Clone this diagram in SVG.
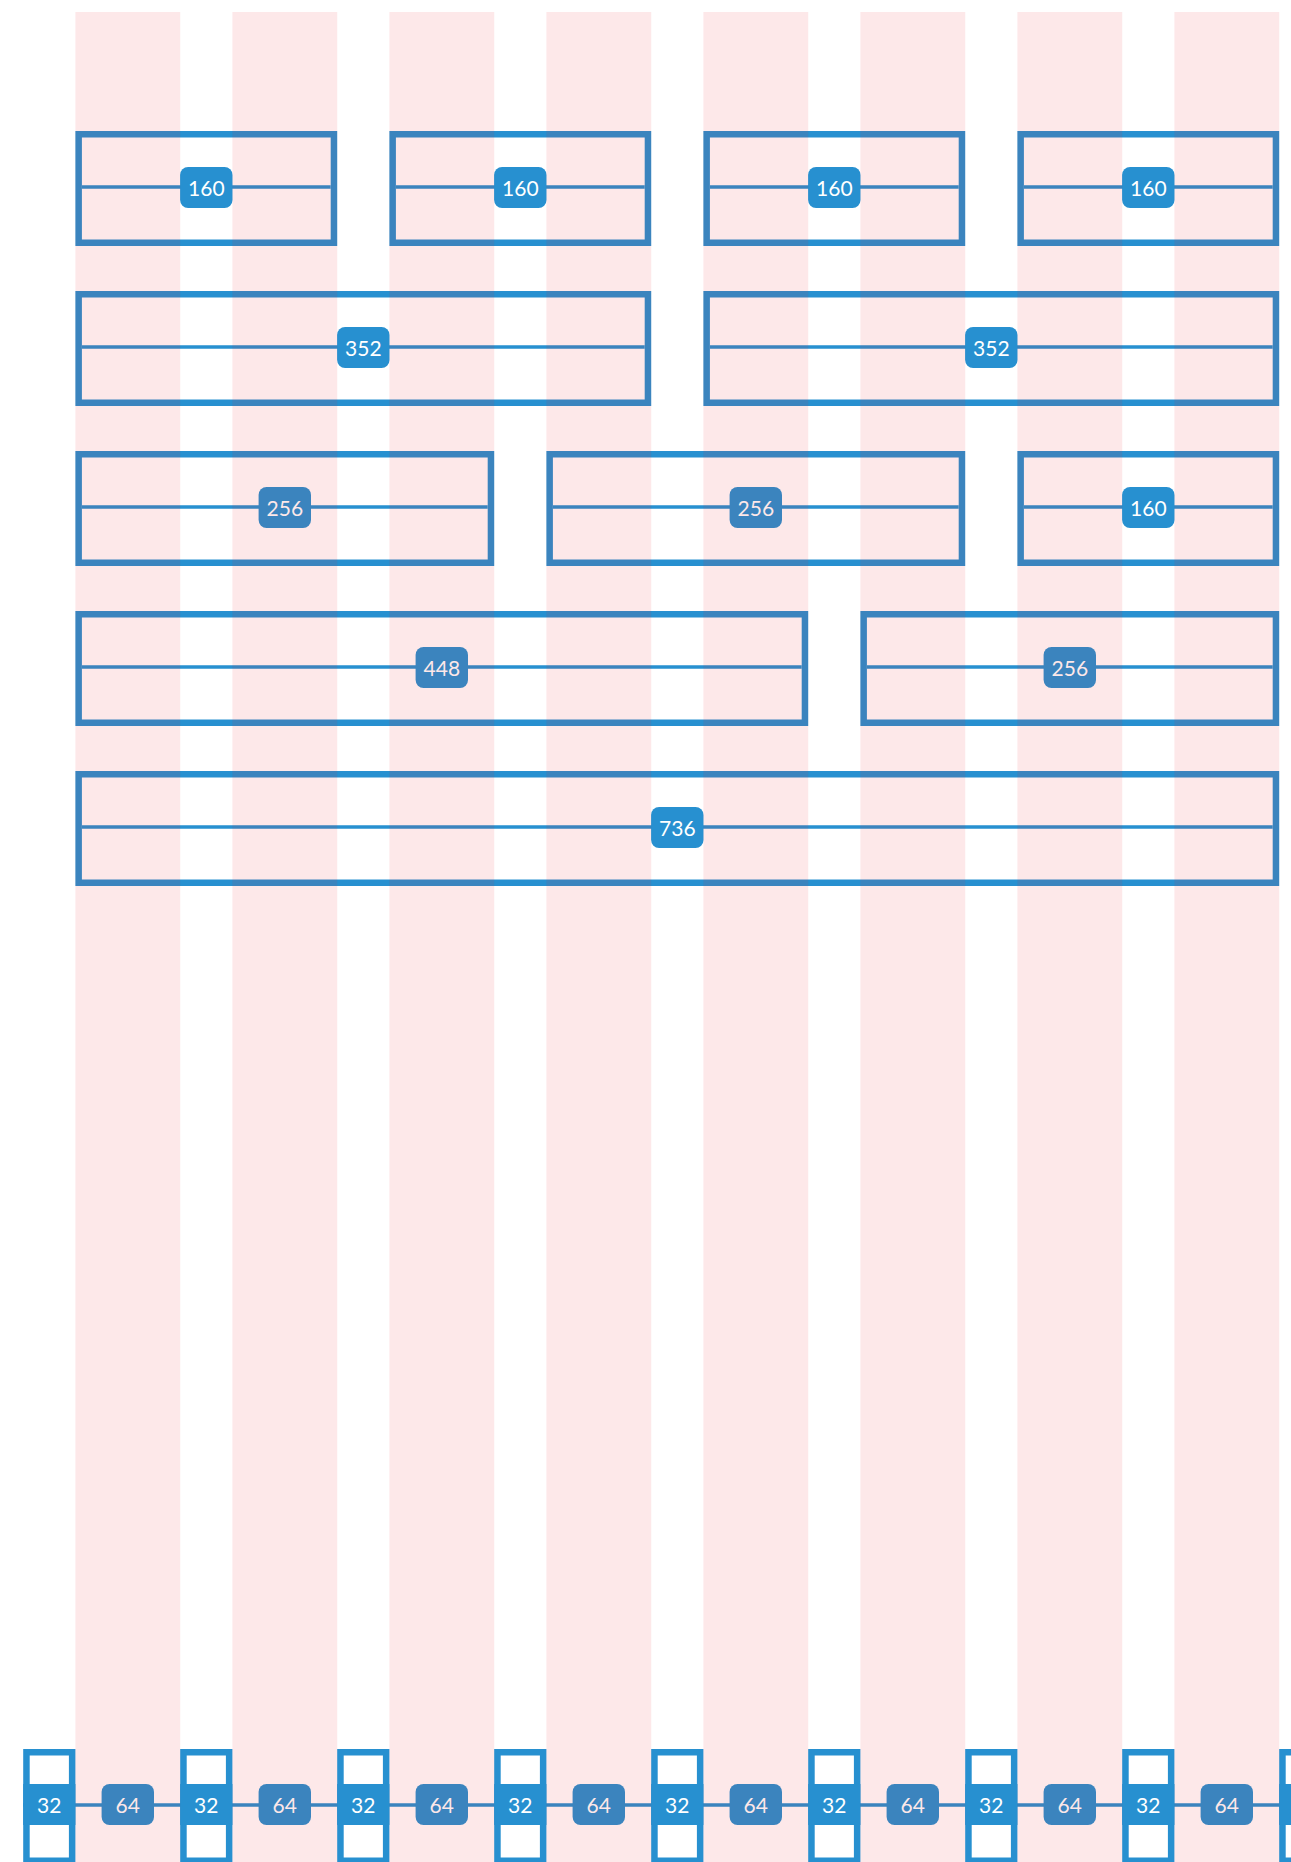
<svg xmlns="http://www.w3.org/2000/svg" width="1291" height="1862" viewBox="0 0 1291 1862">
<style>
.box{fill:#ffffff;stroke:#2790d0;stroke-width:6.5}
.mid{stroke:#2790d0;stroke-width:3.5}
.lab{fill:#2790d0}
.t{fill:#ffffff;font-family:Lato,"Noto Sans",sans-serif;font-size:21px;text-anchor:middle}
.col{fill:rgb(234,30,40);fill-opacity:0.1}
</style>
<rect width="1291" height="1862" fill="#ffffff"/>
<g id="connectors">
<line class="mid" x1="23" y1="1805" x2="1291" y2="1805"/>
</g>
<g id="r1b1"><rect class="box" x="78.65" y="134.25" width="255.3" height="108.5"/><line class="mid" x1="81.9" y1="187" x2="330.7" y2="187"/><rect class="lab" x="180.1" y="167" width="52.4" height="41" rx="8"/><text class="t" x="206.3" y="195.5">160</text></g>
<g id="r1b2"><rect class="box" x="392.65" y="134.25" width="255.3" height="108.5"/><line class="mid" x1="395.9" y1="187" x2="644.7" y2="187"/><rect class="lab" x="494.1" y="167" width="52.4" height="41" rx="8"/><text class="t" x="520.3" y="195.5">160</text></g>
<g id="r1b3"><rect class="box" x="706.65" y="134.25" width="255.3" height="108.5"/><line class="mid" x1="709.9" y1="187" x2="958.7" y2="187"/><rect class="lab" x="808.1" y="167" width="52.4" height="41" rx="8"/><text class="t" x="834.3" y="195.5">160</text></g>
<g id="r1b4"><rect class="box" x="1020.65" y="134.25" width="255.3" height="108.5"/><line class="mid" x1="1023.9" y1="187" x2="1272.7" y2="187"/><rect class="lab" x="1122.1" y="167" width="52.4" height="41" rx="8"/><text class="t" x="1148.3" y="195.5">160</text></g>

<g id="r2b1"><rect class="box" x="78.65" y="294.25" width="569.3" height="108.5"/><line class="mid" x1="81.9" y1="347" x2="644.7" y2="347"/><rect class="lab" x="337.1" y="327" width="52.4" height="41" rx="8"/><text class="t" x="363.3" y="355.5">352</text></g>
<g id="r2b2"><rect class="box" x="706.65" y="294.25" width="569.3" height="108.5"/><line class="mid" x1="709.9" y1="347" x2="1272.7" y2="347"/><rect class="lab" x="965.1" y="327" width="52.4" height="41" rx="8"/><text class="t" x="991.3" y="355.5">352</text></g>

<g id="r3b1"><rect class="box" x="78.65" y="454.25" width="412.3" height="108.5"/><line class="mid" x1="81.9" y1="507" x2="487.7" y2="507"/><rect class="lab" x="258.6" y="487" width="52.4" height="41" rx="8"/><text class="t" x="284.8" y="515.5">256</text></g>
<g id="r3b2"><rect class="box" x="549.65" y="454.25" width="412.3" height="108.5"/><line class="mid" x1="552.9" y1="507" x2="958.7" y2="507"/><rect class="lab" x="729.6" y="487" width="52.4" height="41" rx="8"/><text class="t" x="755.8" y="515.5">256</text></g>
<g id="r3b3"><rect class="box" x="1020.65" y="454.25" width="255.3" height="108.5"/><line class="mid" x1="1023.9" y1="507" x2="1272.7" y2="507"/><rect class="lab" x="1122.1" y="487" width="52.4" height="41" rx="8"/><text class="t" x="1148.3" y="515.5">160</text></g>

<g id="r4b1"><rect class="box" x="78.65" y="614.25" width="726.3" height="108.5"/><line class="mid" x1="81.9" y1="667" x2="801.7" y2="667"/><rect class="lab" x="415.6" y="647" width="52.4" height="41" rx="8"/><text class="t" x="441.8" y="675.5">448</text></g>
<g id="r4b2"><rect class="box" x="863.65" y="614.25" width="412.3" height="108.5"/><line class="mid" x1="866.9" y1="667" x2="1272.7" y2="667"/><rect class="lab" x="1043.6" y="647" width="52.4" height="41" rx="8"/><text class="t" x="1069.8" y="675.5">256</text></g>

<g id="r5b1"><rect class="box" x="78.65" y="774.25" width="1197.3" height="108.5"/><line class="mid" x1="81.9" y1="827" x2="1272.7" y2="827"/><rect class="lab" x="651.1" y="807" width="52.4" height="41" rx="8"/><text class="t" x="677.3" y="835.5">736</text></g>

<g id="g0"><rect class="box" x="26.45" y="1752.25" width="45.7" height="108.5"/><rect class="lab" x="23.2" y="1784" width="52.2" height="41"/><text class="t" x="49.3" y="1812.5">32</text></g>
<g id="g1"><rect class="box" x="183.45" y="1752.25" width="45.7" height="108.5"/><rect class="lab" x="180.2" y="1784" width="52.2" height="41"/><text class="t" x="206.3" y="1812.5">32</text></g>
<g id="g2"><rect class="box" x="340.45" y="1752.25" width="45.7" height="108.5"/><rect class="lab" x="337.2" y="1784" width="52.2" height="41"/><text class="t" x="363.3" y="1812.5">32</text></g>
<g id="g3"><rect class="box" x="497.45" y="1752.25" width="45.7" height="108.5"/><rect class="lab" x="494.2" y="1784" width="52.2" height="41"/><text class="t" x="520.3" y="1812.5">32</text></g>
<g id="g4"><rect class="box" x="654.45" y="1752.25" width="45.7" height="108.5"/><rect class="lab" x="651.2" y="1784" width="52.2" height="41"/><text class="t" x="677.3" y="1812.5">32</text></g>
<g id="g5"><rect class="box" x="811.45" y="1752.25" width="45.7" height="108.5"/><rect class="lab" x="808.2" y="1784" width="52.2" height="41"/><text class="t" x="834.3" y="1812.5">32</text></g>
<g id="g6"><rect class="box" x="968.45" y="1752.25" width="45.7" height="108.5"/><rect class="lab" x="965.2" y="1784" width="52.2" height="41"/><text class="t" x="991.3" y="1812.5">32</text></g>
<g id="g7"><rect class="box" x="1125.45" y="1752.25" width="45.7" height="108.5"/><rect class="lab" x="1122.2" y="1784" width="52.2" height="41"/><text class="t" x="1148.3" y="1812.5">32</text></g>
<g id="g8"><rect class="box" x="1282.45" y="1752.25" width="45.7" height="108.5"/><rect class="lab" x="1279.2" y="1784" width="52.2" height="41"/></g>

<g id="c0"><rect class="lab" x="101.6" y="1784" width="52.4" height="41" rx="8"/><text class="t" x="127.8" y="1812.5">64</text></g>
<g id="c1"><rect class="lab" x="258.6" y="1784" width="52.4" height="41" rx="8"/><text class="t" x="284.8" y="1812.5">64</text></g>
<g id="c2"><rect class="lab" x="415.6" y="1784" width="52.4" height="41" rx="8"/><text class="t" x="441.8" y="1812.5">64</text></g>
<g id="c3"><rect class="lab" x="572.6" y="1784" width="52.4" height="41" rx="8"/><text class="t" x="598.8" y="1812.5">64</text></g>
<g id="c4"><rect class="lab" x="729.6" y="1784" width="52.4" height="41" rx="8"/><text class="t" x="755.8" y="1812.5">64</text></g>
<g id="c5"><rect class="lab" x="886.6" y="1784" width="52.4" height="41" rx="8"/><text class="t" x="912.8" y="1812.5">64</text></g>
<g id="c6"><rect class="lab" x="1043.6" y="1784" width="52.4" height="41" rx="8"/><text class="t" x="1069.8" y="1812.5">64</text></g>
<g id="c7"><rect class="lab" x="1200.6" y="1784" width="52.4" height="41" rx="8"/><text class="t" x="1226.8" y="1812.5">64</text></g>

<g id="columns">
<rect class="col" x="75.4" y="12" width="104.8" height="1850"/>
<rect class="col" x="232.4" y="12" width="104.8" height="1850"/>
<rect class="col" x="389.4" y="12" width="104.8" height="1850"/>
<rect class="col" x="546.4" y="12" width="104.8" height="1850"/>
<rect class="col" x="703.4" y="12" width="104.8" height="1850"/>
<rect class="col" x="860.4" y="12" width="104.8" height="1850"/>
<rect class="col" x="1017.4" y="12" width="104.8" height="1850"/>
<rect class="col" x="1174.4" y="12" width="104.8" height="1850"/>
</g>
</svg>
